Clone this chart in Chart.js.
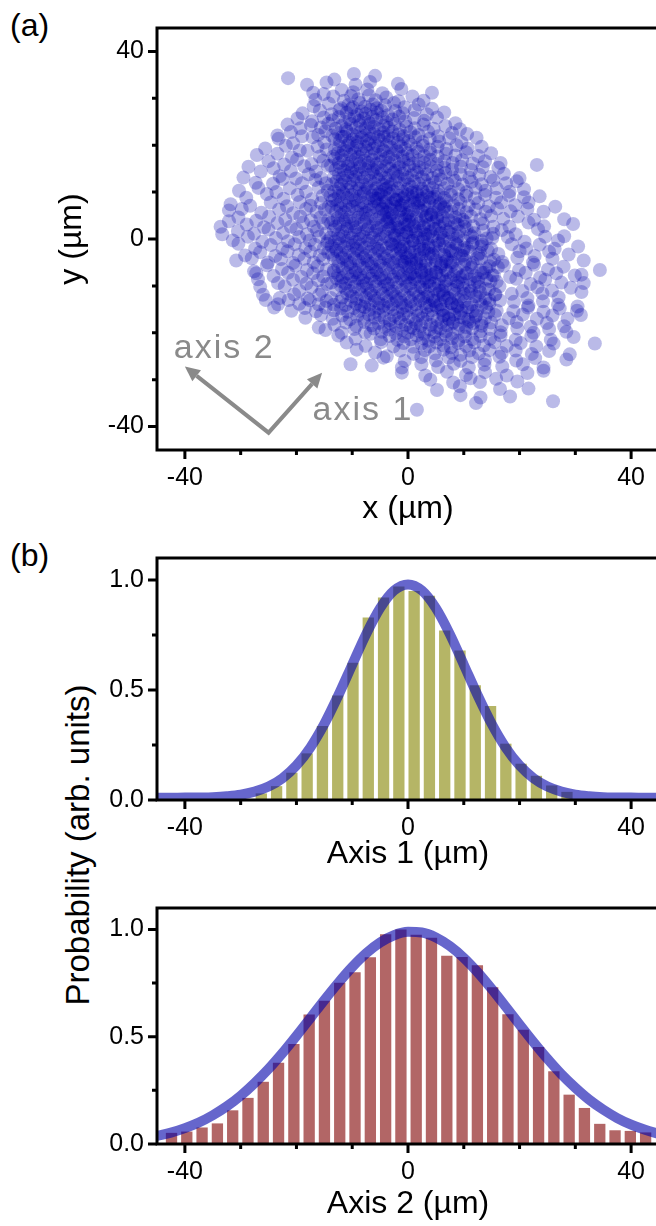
<!DOCTYPE html>
<html>
<head>
<meta charset="utf-8">
<script src="https://cdn.jsdelivr.net/npm/chart.js@4"></script>
<style>
  html, body { margin: 0; padding: 0; background: #fff; }
  body { width: 656px; height: 1226px; overflow: hidden; position: relative;
         font-family: "Liberation Sans", Arial, sans-serif; color: #000; }
  canvas { position: absolute; left: 0; }
  .panel { position: absolute; left: 10px; font-size: 32px; line-height: 32px; }
  #prob { position: absolute; left: 78px; top: 845px; font-size: 33px; white-space: nowrap;
          transform: translate(-50%, -50%) rotate(-90deg); }
</style>
</head>
<body>
<div class="panel" style="top:9px">(a)</div>
<div class="panel" style="top:539px">(b)</div>
<div id="prob">Probability (arb. units)</div>
<canvas id="cloudChart" width="700" height="530" style="top:0"></canvas>
<canvas id="axis1Chart" width="700" height="350" style="top:530px"></canvas>
<canvas id="axis2Chart" width="700" height="346" style="top:880px"></canvas>
<script>
// tick marks (every 10 µm), only the majors carry a label
const umTicks = [-40, -30, -20, -10, 0, 10, 20, 30, 40];
const umLabels = [-40, 0, 40];
const probTicks = [0, 0.25, 0.5, 0.75, 1.0];
const probLabels = [0, 0.5, 1.0];

// bead positions (x, y in µm), one line per horizontal strip, top to bottom
const cloud = [
  -21.5,34.3, -13.2,34.0, -9.7,35.2, -5.9,34.8,
  -18.1,32.9, -14.6,33.4, -9.4,32.9, -6.8,33.5, -1.8,33.1,
  -17.0,31.2, -15.1,30.9, -11.9,31.8, -9.8,31.3, -7.3,31.9, -4.6,31.1, -1.2,32.0, 4.3,31.2,
  -16.6,29.7, -13.4,30.4, -11.5,29.5, -10.2,30.5, -8.9,29.8, -7.0,30.6, -5.8,29.6, -3.9,30.2, -1.7,29.4, 0.8,30.4, 2.8,29.5,
  -16.9,28.3, -14.2,28.9, -12.0,27.9, -10.7,28.6, -9.9,28.1, -8.6,29.0, -7.7,28.2, -6.3,28.7, -5.6,27.9, -4.1,28.5, -2.5,29.0, -0.6,28.1, 1.9,28.7, 4.3,27.8,
  -18.9,26.8, -15.8,27.4, -13.7,26.6, -12.3,27.5, -11.0,26.9, -10.2,27.7, -9.1,26.5, -8.3,27.2, -7.6,26.7, -6.7,27.6, -5.5,26.9, -4.8,27.4, -3.6,26.4, -2.3,27.3, -0.9,26.8, 1.2,27.5, 3.4,26.6, 6.5,27.0,
  -19.8,25.7, -17.2,25.1, -15.1,25.9, -13.5,25.3, -12.4,26.0, -11.2,25.0, -10.5,25.6, -9.6,26.1, -8.8,25.2, -7.9,25.7, -7.1,24.9, -6.4,26.0, -5.7,25.4, -4.6,25.9, -3.9,24.9, -2.8,25.5, -1.6,26.1, -0.5,25.1, 1.1,25.8, 2.9,25.2, 5.2,25.9, 8.5,24.7,
  -21.6,24.4, -19.3,23.6, -17.4,24.3, -15.6,23.8, -14.3,24.6, -13.0,23.5, -11.9,24.1, -11.1,23.4, -10.2,24.5, -9.3,23.8, -8.6,24.3, -7.6,23.6, -6.8,24.6, -6.1,23.9, -5.2,23.4, -4.4,24.2, -3.5,23.7, -2.4,24.5, -1.5,23.3, -0.3,24.0, 1.2,23.6, 2.8,24.4, 4.6,23.5, 6.7,24.1, 9.3,23.4,
  -23.4,22.1, -21.0,22.8, -19.0,21.9, -16.1,22.2, -14.8,23.0, -13.6,22.0, -12.5,22.6, -11.8,21.8, -10.9,22.9, -10.0,22.3, -9.2,21.9, -8.5,22.8, -7.6,22.1, -6.9,23.0, -6.1,22.4, -5.3,21.8, -4.4,22.7, -3.6,22.0, -2.8,22.9, -1.7,22.3, -0.8,21.9, 0.4,22.8, 1.9,22.2, 3.6,22.9, 5.4,21.9, 7.9,22.6, 10.6,22.4,
  -23.2,21.4, -20.6,20.4, -17.1,21.7, -15.0,20.6, -13.1,21.3, -12.2,20.9, -11.4,21.8, -10.5,20.6, -9.9,21.2, -9.1,20.7, -8.3,21.6, -7.4,20.9, -6.8,21.4, -5.9,20.5, -5.1,21.1, -4.3,21.8, -3.4,20.8, -2.7,21.5, -1.8,20.6, -0.9,21.3, 0.1,20.9, 1.3,21.7, 2.6,20.7, 3.9,21.4, 5.6,20.8, 7.4,21.5, 9.6,20.6, 12.3,21.6,
  -25.6,19.3, -21.9,19.9, -19.4,18.9, -16.2,19.7, -14.6,19.1, -13.1,19.2, -12.3,19.8, -11.5,19.0, -10.8,20.0, -10.0,19.4, -9.2,19.9, -8.5,19.1, -7.7,19.7, -7.0,20.2, -6.2,19.3, -5.4,19.8, -4.5,19.0, -3.8,20.0, -3.0,19.5, -2.1,18.9, -1.3,19.8, -0.5,19.2, 0.5,20.1, 1.5,19.4, 2.7,19.9, 3.9,19.1, 5.3,19.7, 6.9,19.2, 8.7,20.0, 10.7,19.3, 13.2,19.7,
  -27.1,17.9, -23.4,18.2, -20.8,17.4, -18.0,18.8, -15.8,17.6, -13.4,17.6, -12.6,18.3, -11.9,17.8, -11.1,18.7, -10.3,17.9, -9.6,18.4, -8.9,17.5, -8.1,18.2, -7.4,18.8, -6.6,17.7, -5.9,18.3, -5.0,17.9, -4.3,18.7, -3.5,17.5, -2.7,18.1, -1.8,18.6, -1.0,17.6, -0.1,18.3, 0.8,17.8, 1.8,18.6, 2.9,17.7, 4.0,18.4, 5.3,17.6, 6.8,18.2, 8.5,17.8, 10.4,18.5, 12.6,17.7, 14.9,18.3,
  -25.0,16.6, -22.2,15.9, -19.9,16.9, -17.3,16.0, -15.2,16.7, -13.1,17.1, -12.4,16.2, -11.6,16.8, -10.8,16.0, -10.1,16.5, -9.3,17.0, -8.6,16.1, -7.8,16.7, -7.1,16.2, -6.3,16.9, -5.6,16.0, -4.8,16.5, -4.0,17.1, -3.3,16.2, -2.4,16.7, -1.6,16.0, -0.8,16.6, 0.1,17.0, 0.9,16.1, 1.9,16.8, 2.9,16.3, 4.0,16.9, 5.2,16.0, 6.5,16.6, 8.0,16.2, 9.7,16.8, 11.6,16.1, 13.8,16.6, 16.6,16.2,
  -28.6,15.4, -24.1,15.1, -21.0,14.5, -18.6,15.5, -16.5,14.4, -14.4,15.6, -13.8,15.7, -13.0,14.8, -12.2,15.3, -11.5,14.6, -10.7,15.5, -10.0,15.0, -9.2,14.5, -8.5,15.4, -7.7,14.9, -7.0,15.6, -6.2,14.7, -5.5,15.2, -4.7,14.6, -3.9,15.5, -3.2,15.0, -2.3,14.5, -1.5,15.3, -0.7,14.8, 0.2,15.6, 1.1,14.7, 2.0,15.3, 3.0,14.9, 4.1,15.5, 5.2,14.6, 6.5,15.2, 7.9,14.8, 9.5,15.4, 11.3,14.7, 13.4,15.3, 16.2,15.2, 23.1,15.8,
  -29.5,13.1, -26.4,14.4, -23.0,13.4, -20.1,12.9, -17.8,13.8, -15.6,13.0, -13.3,13.2, -12.4,13.8, -11.7,13.0, -10.9,13.6, -10.2,14.2, -9.4,13.3, -8.7,13.9, -7.9,13.1, -7.2,13.7, -6.4,14.2, -5.7,13.2, -4.9,13.8, -4.1,13.0, -3.4,13.5, -2.6,14.1, -1.8,13.3, -1.0,13.9, -0.1,13.1, 0.7,13.6, 1.6,14.2, 2.5,13.2, 3.4,13.8, 4.4,13.0, 5.5,13.6, 6.7,14.1, 8.0,13.2, 9.4,13.8, 11.0,13.1, 12.8,13.7, 14.8,13.2, 17.2,13.9, 20.0,13.0,
  -27.3,12.0, -24.2,11.8, -22.5,12.8, -19.0,11.9, -16.6,12.6, -14.7,11.9, -13.6,11.7, -12.8,12.3, -12.0,11.6, -11.3,12.5, -10.5,11.9, -9.8,12.6, -9.0,11.7, -8.3,12.2, -7.5,11.5, -6.8,12.4, -6.0,11.8, -5.3,12.6, -4.5,11.6, -3.7,12.2, -3.0,11.7, -2.2,12.5, -1.4,11.9, -0.6,12.7, 0.2,11.6, 1.1,12.3, 2.0,11.8, 2.9,12.6, 3.8,11.5, 4.8,12.1, 5.9,12.7, 7.1,11.8, 8.4,12.4, 9.8,11.6, 11.4,12.2, 13.2,11.7, 15.3,12.5, 17.6,11.9, 19.5,12.3,
  -30.3,10.3, -26.8,10.9, -23.6,10.0, -21.2,10.8, -18.3,10.1, -16.0,11.0, -14.4,10.3, -13.2,10.2, -12.4,10.8, -11.7,10.0, -10.9,10.5, -10.2,11.1, -9.4,10.2, -8.7,10.7, -7.9,10.0, -7.2,10.9, -6.4,10.3, -5.7,10.8, -4.9,10.0, -4.1,10.6, -3.4,11.1, -2.6,10.2, -1.8,10.8, -1.0,10.1, -0.1,10.6, 0.7,11.1, 1.6,10.1, 2.5,10.7, 3.4,10.0, 4.4,10.9, 5.4,10.3, 6.5,10.8, 7.7,10.1, 9.0,10.6, 10.5,10.0, 12.1,10.9, 13.9,10.3, 15.9,10.8, 18.2,10.1, 20.8,10.6,
  -29.0,8.8, -25.3,9.6, -22.3,8.6, -19.8,9.4, -17.2,8.5, -15.3,9.2, -13.9,9.3, -13.1,8.5, -12.4,9.2, -11.6,9.7, -10.9,8.8, -10.1,9.4, -9.4,8.5, -8.6,9.1, -7.9,9.7, -7.1,8.7, -6.4,9.3, -5.6,8.6, -4.8,9.5, -4.1,8.9, -3.3,9.6, -2.5,8.5, -1.7,9.2, -0.9,8.7, -0.1,9.5, 0.8,8.9, 1.6,9.6, 2.5,8.6, 3.4,9.2, 4.4,8.7, 5.4,9.5, 6.5,8.8, 7.7,9.4, 9.0,8.5, 10.4,9.2, 12.0,8.7, 13.8,9.4, 15.8,8.8, 18.1,9.3, 20.8,8.9, 23.6,9.1,
  -31.8,7.4, -28.3,7.1, -24.6,7.8, -21.7,7.0, -19.4,7.9, -17.5,7.1, -15.6,7.7, -14.2,6.9, -13.5,8.2, -12.7,7.3, -12.0,7.9, -11.2,7.1, -10.5,7.7, -9.7,8.2, -9.0,7.2, -8.2,7.8, -7.5,7.0, -6.7,7.5, -6.0,8.1, -5.2,7.3, -4.4,7.9, -3.7,7.0, -2.9,7.6, -2.1,8.2, -1.3,7.2, -0.5,7.8, 0.3,7.1, 1.2,7.7, 2.0,8.2, 2.9,7.3, 3.8,7.9, 4.8,7.0, 5.8,7.6, 6.9,8.1, 8.1,7.2, 9.4,7.8, 10.9,7.1, 12.6,7.7, 14.5,7.0, 16.7,7.8, 19.2,7.2, 21.6,7.8,
  -32.1,6.1, -29.8,6.4, -26.3,5.6, -23.1,6.3, -20.6,5.5, -18.3,6.4, -16.4,5.8, -14.9,6.3, -13.7,6.8, -12.9,5.9, -12.1,6.5, -11.4,5.7, -10.6,6.3, -9.9,6.9, -9.1,5.8, -8.4,6.4, -7.6,5.6, -6.9,6.2, -6.1,6.8, -5.3,5.9, -4.6,6.5, -3.8,5.7, -3.1,6.3, -2.3,6.9, -1.5,5.8, -0.7,6.4, 0.1,5.6, 0.9,6.2, 1.8,6.8, 2.6,5.9, 3.5,6.5, 4.5,5.7, 5.5,6.3, 6.6,6.9, 7.8,5.8, 9.1,6.4, 10.5,5.7, 12.1,6.3, 13.9,5.8, 16.0,6.5, 18.4,5.9, 21.4,6.4, 24.3,5.8, 26.4,6.9,
  -30.4,4.6, -27.2,3.9, -24.9,4.8, -22.0,4.1, -19.3,4.8, -17.4,4.0, -15.7,4.6, -14.3,4.1, -13.4,4.0, -12.6,4.5, -11.9,5.1, -11.1,4.1, -10.4,4.7, -9.6,4.0, -8.9,4.6, -8.1,5.2, -7.4,4.3, -6.6,4.9, -5.8,4.1, -5.1,4.6, -4.3,5.1, -3.5,4.2, -2.7,4.8, -1.9,4.0, -1.1,4.5, -0.2,5.1, 0.6,4.1, 1.5,4.7, 2.3,4.0, 3.2,4.6, 4.2,5.1, 5.2,4.2, 6.2,4.8, 7.3,4.0, 8.5,4.6, 9.8,4.1, 11.3,4.8, 13.0,4.2, 14.9,4.9, 17.1,4.3, 19.7,4.8, 22.6,4.1, 28.0,4.2,
  -32.1,3.8, -33.6,2.6, -28.9,3.1, -25.8,2.5, -23.4,3.4, -21.0,2.6, -18.8,3.5, -16.9,2.6, -15.2,3.3, -13.8,3.4, -13.0,2.6, -12.3,3.2, -11.5,3.7, -10.8,2.7, -10.0,3.3, -9.3,2.5, -8.5,3.1, -7.8,3.6, -7.0,2.7, -6.2,3.3, -5.5,2.4, -4.7,3.0, -3.9,3.6, -3.1,2.6, -2.3,3.2, -1.5,2.5, -0.6,3.1, 0.2,3.7, 1.1,2.7, 1.9,3.3, 2.8,2.5, 3.7,3.1, 4.6,3.6, 5.6,2.7, 6.6,3.3, 7.7,2.5, 8.9,3.1, 10.2,3.6, 11.7,2.7, 13.4,3.3, 15.3,2.6, 18.2,2.6, 21.6,3.5, 24.4,2.7, 29.6,3.2,
  -33.3,1.0, -30.5,1.7, -27.6,1.1, -25.0,2.0, -22.4,1.3, -20.0,2.1, -18.1,1.0, -16.3,1.8, -14.7,1.2, -13.3,1.9, -12.5,1.0, -11.8,1.6, -11.0,2.2, -10.3,1.2, -9.5,1.8, -8.8,1.0, -8.0,1.5, -7.3,2.1, -6.5,1.2, -5.7,1.8, -5.0,1.0, -4.2,1.6, -3.4,2.2, -2.6,1.3, -1.8,1.9, -1.0,1.0, -0.2,1.5, 0.6,2.1, 1.4,1.2, 2.3,1.8, 3.1,1.0, 4.0,1.6, 4.9,2.2, 5.9,1.3, 6.9,1.9, 8.0,1.0, 9.2,1.6, 10.5,2.1, 11.9,1.2, 13.5,1.8, 15.3,1.1, 16.8,1.9, 19.3,1.0, 23.3,2.1, 28.0,0.6,
  -31.4,-0.3, -28.7,0.5, -26.1,-0.6, -23.7,0.2, -21.5,-0.5, -19.5,0.4, -17.6,-0.3, -15.9,0.5, -14.4,-0.5, -13.9,0.3, -13.1,-0.5, -12.4,0.1, -11.6,0.6, -10.9,-0.4, -10.1,0.2, -9.4,-0.6, -8.6,0.0, -7.9,0.5, -7.1,-0.3, -6.3,0.3, -5.6,-0.5, -4.8,0.1, -4.0,0.6, -3.2,-0.4, -2.4,0.2, -1.6,-0.6, -0.8,0.0, 0.1,0.5, 0.9,-0.3, 1.8,0.3, 2.6,-0.5, 3.5,0.1, 4.4,0.6, 5.4,-0.4, 6.4,0.2, 7.5,-0.5, 8.7,0.1, 10.0,-0.3, 11.5,0.4, 13.2,-0.4, 15.1,0.2, 17.9,0.4, 20.9,-0.6, 24.6,0.5, 26.9,-0.3,
  -30.4,-1.0, -27.4,-2.0, -24.6,-1.3, -22.5,-2.1, -20.3,-1.1, -18.4,-1.9, -16.7,-1.2, -15.1,-2.0, -14.5,-1.0, -13.7,-1.5, -12.9,-2.1, -12.2,-1.1, -11.4,-1.7, -10.7,-0.9, -9.9,-1.4, -9.2,-2.0, -8.4,-1.2, -7.7,-1.8, -6.9,-1.0, -6.1,-1.6, -5.4,-2.1, -4.6,-1.3, -3.8,-1.9, -3.0,-1.0, -2.2,-1.5, -1.4,-2.0, -0.6,-1.1, 0.3,-1.7, 1.1,-0.9, 2.0,-1.5, 2.8,-2.1, 3.7,-1.2, 4.6,-1.8, 5.6,-1.0, 6.6,-1.6, 7.6,-2.1, 8.8,-1.2, 10.1,-1.8, 11.5,-1.0, 13.1,-1.6, 14.9,-2.1, 18.6,-1.1, 21.2,-2.0, 23.6,-1.2, 26.3,-2.1, 30.5,-1.6,
  -29.2,-3.5, -26.5,-2.8, -23.8,-3.6, -21.6,-2.6, -19.6,-3.4, -17.5,-2.7, -15.8,-3.5, -14.3,-2.9, -13.6,-3.3, -12.8,-2.5, -12.1,-3.0, -11.3,-3.6, -10.6,-2.7, -9.8,-3.2, -9.1,-2.4, -8.3,-3.0, -7.6,-3.6, -6.8,-2.7, -6.0,-3.3, -5.3,-2.5, -4.5,-3.1, -3.7,-3.6, -2.9,-2.6, -2.1,-3.2, -1.3,-2.4, -0.5,-3.0, 0.3,-3.6, 1.2,-2.7, 2.0,-3.3, 2.9,-2.5, 3.7,-3.1, 4.6,-3.6, 5.5,-2.7, 6.5,-3.3, 7.5,-2.5, 8.6,-3.1, 9.8,-3.6, 11.1,-2.7, 12.6,-3.3, 14.3,-2.5, 16.2,-3.2, 20.0,-2.6, 22.7,-3.6, 25.3,-2.7, 28.8,-3.3,
  -30.8,-4.6, -28.0,-4.1, -25.1,-5.0, -22.8,-4.3, -20.6,-5.1, -18.6,-4.2, -16.9,-5.0, -15.2,-4.3, -13.3,-4.2, -12.5,-4.8, -11.8,-4.0, -11.0,-4.5, -10.3,-5.1, -9.5,-4.1, -8.8,-4.7, -8.0,-4.0, -7.3,-4.6, -6.5,-5.2, -5.7,-4.3, -5.0,-4.9, -4.2,-4.1, -3.4,-4.6, -2.6,-5.1, -1.8,-4.2, -1.0,-4.8, -0.2,-4.0, 0.6,-4.5, 1.5,-5.1, 2.3,-4.1, 3.2,-4.7, 4.1,-4.0, 5.0,-4.6, 6.0,-5.2, 7.0,-4.3, 8.0,-4.9, 9.1,-4.1, 10.3,-4.6, 11.6,-5.1, 13.1,-4.2, 14.8,-4.8, 16.9,-4.9, 19.6,-4.0, 22.4,-5.0, 25.9,-4.2, 31.5,-4.6,
  -27.6,-6.9, -25.3,-5.6, -22.6,-6.4, -20.2,-5.7, -18.1,-6.6, -16.2,-5.8, -14.6,-6.5, -13.3,-6.7, -12.5,-5.8, -11.7,-6.3, -10.9,-5.5, -10.2,-6.0, -9.4,-6.6, -8.7,-5.7, -7.9,-6.2, -7.2,-5.4, -6.4,-6.0, -5.7,-6.6, -4.9,-5.7, -4.1,-6.3, -3.4,-5.5, -2.6,-6.1, -1.8,-6.6, -1.0,-5.6, -0.2,-6.2, 0.6,-5.4, 1.4,-6.0, 2.3,-6.6, 3.1,-5.7, 4.0,-6.3, 4.9,-5.5, 5.8,-6.1, 6.8,-6.6, 7.8,-5.7, 8.9,-6.3, 10.1,-5.5, 11.4,-6.1, 12.9,-6.7, 14.6,-5.8, 17.2,-5.7, 19.9,-6.6, 22.6,-5.5, 25.1,-6.5, 27.9,-5.9, 29.9,-7.8, 34.4,-6.6,
  -27.2,-7.3, -24.1,-7.9, -21.5,-7.2, -19.1,-8.1, -17.0,-7.3, -15.2,-8.0, -13.3,-7.1, -12.5,-7.7, -11.7,-8.2, -10.9,-7.3, -10.1,-7.9, -9.4,-7.1, -8.6,-7.6, -7.9,-8.2, -7.1,-7.2, -6.4,-7.8, -5.6,-7.1, -4.8,-7.7, -4.1,-8.3, -3.3,-7.4, -2.5,-8.0, -1.7,-7.2, -0.9,-7.7, -0.1,-8.2, 0.7,-7.3, 1.6,-7.9, 2.4,-7.1, 3.3,-7.7, 4.2,-8.2, 5.1,-7.2, 6.1,-7.8, 7.1,-7.1, 8.2,-7.7, 9.3,-8.2, 10.6,-7.3, 12.0,-7.9, 13.6,-7.2, 15.4,-7.8, 18.3,-8.1, 21.1,-7.2, 23.7,-8.2, 26.6,-7.3, 31.1,-7.6,
  -26.9,-8.6, -23.3,-9.4, -20.6,-8.7, -18.2,-9.5, -16.1,-8.8, -14.5,-9.6, -13.7,-9.3, -12.8,-8.4, -12.0,-9.0, -11.2,-9.5, -10.4,-8.6, -9.6,-9.2, -8.9,-8.4, -8.1,-8.9, -7.4,-9.5, -6.6,-8.5, -5.9,-9.1, -5.1,-8.4, -4.3,-9.0, -3.6,-9.6, -2.8,-8.7, -2.0,-9.3, -1.2,-8.5, -0.4,-9.0, 0.4,-9.5, 1.2,-8.6, 2.1,-9.2, 2.9,-8.4, 3.8,-9.0, 4.7,-9.5, 5.6,-8.5, 6.6,-9.1, 7.6,-8.4, 8.7,-9.0, 9.8,-9.5, 11.1,-8.6, 12.5,-9.2, 14.1,-8.5, 15.9,-9.1, 19.4,-8.5, 22.0,-9.6, 24.6,-8.7, 27.5,-9.3, 31.5,-9.4,
  -26.5,-10.2, -22.1,-10.1, -19.5,-11.0, -17.3,-10.3, -15.4,-11.1, -12.9,-10.9, -12.0,-10.0, -11.2,-10.6, -10.4,-11.1, -9.6,-10.2, -8.8,-10.8, -8.1,-10.0, -7.3,-10.5, -6.6,-11.1, -5.8,-10.1, -5.0,-10.7, -4.3,-10.0, -3.5,-10.6, -2.7,-11.2, -1.9,-10.3, -1.1,-10.9, -0.3,-10.1, 0.5,-10.6, 1.3,-11.1, 2.2,-10.2, 3.0,-10.8, 3.9,-10.0, 4.8,-10.6, 5.7,-11.1, 6.7,-10.1, 7.7,-10.7, 8.8,-10.0, 10.0,-10.6, 11.3,-11.1, 12.8,-10.2, 14.5,-10.8, 16.4,-10.1, 20.5,-11.1, 23.2,-10.3, 25.8,-11.0, 29.2,-10.4,
  -26.0,-11.9, -23.0,-12.6, -20.4,-11.8, -18.0,-12.7, -15.9,-11.9, -13.8,-12.6, -11.8,-12.5, -10.9,-11.6, -10.0,-12.2, -9.2,-12.7, -8.4,-11.8, -7.6,-12.4, -6.8,-11.6, -6.1,-12.1, -5.3,-12.7, -4.5,-11.7, -3.8,-12.3, -3.0,-11.6, -2.2,-12.2, -1.4,-12.8, -0.6,-11.9, 0.2,-12.5, 1.0,-11.7, 1.9,-12.2, 2.7,-12.7, 3.6,-11.8, 4.5,-12.4, 5.4,-11.6, 6.4,-12.2, 7.4,-12.7, 8.5,-11.7, 9.6,-12.3, 10.9,-11.6, 12.3,-12.2, 13.9,-12.7, 15.7,-11.8, 18.6,-11.7, 21.4,-12.6, 24.1,-11.6, 27.0,-12.4, 31.1,-11.3,
  -25.5,-13.0, -21.4,-13.0, -23.3,-13.9, -19.5,-13.8, -17.6,-13.1, -16.0,-13.9, -14.6,-13.2, -13.3,-14.0, -12.2,-13.4, -11.2,-14.1, -10.2,-13.2, -9.3,-13.8, -8.4,-14.3, -7.6,-13.4, -6.8,-14.0, -6.0,-13.1, -5.2,-13.7, -4.4,-14.2, -3.6,-13.3, -2.8,-13.9, -2.0,-13.1, -1.2,-13.6, -0.4,-14.2, 0.5,-13.3, 1.3,-13.9, 2.2,-13.1, 3.0,-13.7, 3.9,-14.2, 4.8,-13.3, 5.8,-13.9, 6.8,-13.1, 7.8,-13.7, 8.9,-14.2, 10.1,-13.3, 11.4,-13.9, 12.9,-13.2, 14.6,-13.8, 16.5,-13.1, 19.0,-13.4, 21.6,-14.2, 24.2,-13.3, 26.9,-14.0, 30.4,-14.4,
  -24.0,-14.6, -20.9,-15.3, -18.5,-14.7, -16.5,-15.4, -14.8,-14.6, -13.3,-15.2, -12.0,-14.8, -10.8,-15.5, -9.7,-14.7, -8.7,-15.3, -7.8,-14.5, -6.9,-15.1, -6.0,-15.6, -5.2,-14.7, -4.4,-15.3, -3.5,-14.5, -2.7,-15.0, -1.9,-15.6, -1.0,-14.7, -0.2,-15.3, 0.6,-14.5, 1.5,-15.1, 2.4,-15.6, 3.3,-14.6, 4.2,-15.2, 5.2,-14.5, 6.2,-15.1, 7.3,-15.6, 8.4,-14.7, 9.6,-15.3, 10.9,-14.6, 12.4,-15.2, 14.0,-14.6, 15.9,-15.3, 18.9,-15.4, 21.5,-14.6, 24.3,-15.5, 27.2,-14.8, 30.3,-15.3,
  -18.4,-16.8, -15.6,-16.2, -13.5,-17.0, -11.8,-16.3, -10.4,-17.1, -9.1,-16.4, -8.0,-17.0, -7.0,-16.1, -6.0,-16.8, -5.1,-16.2, -4.2,-16.9, -3.3,-17.3, -2.5,-16.4, -1.6,-16.9, -0.8,-16.1, 0.1,-16.7, 0.9,-17.2, 1.8,-16.3, 2.6,-16.9, 3.5,-16.1, 4.4,-16.6, 5.3,-17.2, 6.3,-16.3, 7.3,-16.9, 8.3,-16.1, 9.5,-16.7, 10.8,-17.2, 12.2,-16.3, 13.8,-16.9, 15.6,-16.2, 18.1,-16.9, 20.6,-16.1, 23.1,-17.0, 25.9,-16.3, 28.6,-17.0, 31.0,-16.2,
  -16.0,-18.9, -13.2,-18.3, -11.1,-17.8, -9.3,-18.5, -7.8,-17.7, -6.5,-18.4, -5.3,-17.9, -4.2,-18.7, -3.2,-18.0, -2.2,-18.6, -1.3,-17.7, -0.4,-18.3, 0.5,-18.8, 1.4,-17.9, 2.3,-18.5, 3.2,-17.7, 4.1,-18.3, 5.1,-18.8, 6.0,-17.8, 7.0,-18.4, 8.1,-17.7, 9.2,-18.3, 10.4,-18.8, 11.7,-17.9, 13.2,-18.5, 14.9,-17.8, 16.8,-18.4, 19.5,-17.7, 22.0,-18.7, 24.9,-17.9, 28.0,-18.6,
  -14.8,-19.4, -11.9,-20.0, -9.6,-19.2, -7.7,-19.9, -6.1,-19.1, -4.7,-19.8, -3.4,-19.3, -2.2,-20.1, -1.1,-19.4, 0.0,-20.0, 1.0,-19.1, 2.0,-19.7, 2.9,-20.2, 3.9,-19.3, 4.8,-19.9, 5.8,-19.1, 6.8,-19.7, 7.9,-20.2, 9.0,-19.2, 10.2,-19.8, 11.5,-19.1, 13.0,-19.7, 14.7,-19.2, 16.6,-19.9, 19.6,-19.1, 22.5,-20.0, 25.3,-19.2, 28.4,-19.8,
  -12.5,-20.6, -9.4,-21.3, -6.7,-20.2, -4.9,-21.4, -3.3,-20.7, -1.9,-21.5, -0.7,-20.8, 0.5,-21.4, 1.6,-20.6, 2.7,-21.2, 3.7,-21.7, 4.7,-20.8, 5.8,-21.4, 6.8,-20.6, 7.9,-21.2, 9.0,-21.7, 10.2,-20.8, 11.5,-21.4, 13.0,-20.7, 14.7,-21.3, 16.6,-20.6, 19.3,-21.5, 22.1,-20.7, 25.6,-21.5, 29.7,-20.9,
  -11.0,-22.1, -7.6,-22.8, -4.8,-22.0, -2.6,-22.9, -0.8,-22.2, 0.9,-23.0, 2.4,-22.3, 3.8,-22.9, 5.1,-22.1, 6.4,-22.7, 7.7,-23.1, 9.0,-22.2, 10.4,-22.8, 11.9,-22.1, 13.6,-22.7, 15.5,-22.0, 17.7,-22.8, 20.2,-22.2, 23.0,-22.9, 26.1,-22.3, 33.5,-22.3,
  -9.2,-23.6, -3.8,-25.0, -5.9,-24.2, -1.4,-23.8, 1.0,-24.5, 3.0,-23.7, 4.8,-24.4, 6.4,-23.6, 7.9,-24.3, 9.4,-24.7, 11.0,-23.8, 12.7,-24.4, 14.6,-23.7, 16.8,-24.3, 19.3,-23.8, 22.2,-24.5, 25.3,-23.9, 29.0,-24.6,
  -10.3,-26.7, -4.4,-25.3, -0.6,-26.0, 2.4,-25.2, 5.0,-25.9, 7.3,-25.3, 9.4,-26.0, 11.5,-25.2, 13.8,-25.8, 16.4,-25.1, 19.4,-25.9, 22.8,-25.4, 28.4,-25.7,
  -6.5,-27.0, -1.1,-27.4, 2.4,-26.7, 5.4,-27.3, 8.2,-26.6, 10.9,-27.4, 13.7,-26.8, 16.9,-27.2, 20.6,-26.7, 24.3,-27.4,
  -1.1,-28.5, 3.1,-29.1, 7.0,-28.3, 10.4,-29.0, 13.8,-28.4, 17.7,-29.1, 21.4,-28.6, 24.3,-28.1,
  4.0,-30.0, 8.1,-30.6, 12.9,-30.5, 15.8,-29.8, 19.6,-30.4, 11.2,-29.7,
  5.2,-32.2, 9.3,-31.4, 16.5,-32.0, 21.6,-31.9,
  9.4,-33.3, 13.0,-33.8, 18.3,-33.6,
  26.0,-34.6, 12.2,-35.0,
  1.6,-36.4,
  // the densest part of the cloud, just right of centre
  -5.3,9.6, -2.2,8.4, 0.7,9.9, 3.9,8.8, -4.0,7.9, 1.8,7.6,
  -4.6,6.3, -1.1,7.2, 2.4,6.0, 5.7,7.4, -2.9,5.5, 0.3,4.9, 4.1,5.2, 7.0,5.8,
  -3.7,3.6, -0.5,4.2, 2.9,3.1, 5.2,4.6, 8.4,3.4, -1.8,2.3, 1.4,1.7, 4.6,2.2, 7.3,1.5, 10.1,2.6,
  -2.4,0.8, 0.8,-0.4, 3.6,0.9, 6.2,-0.2, 9.0,0.6, 11.7,-0.7, -0.9,-1.6, 2.2,-2.3, 5.0,-1.4, 7.9,-2.6, 10.6,-1.9, 13.3,-1.2,
  -1.3,-3.7, 1.5,-4.4, 4.3,-3.2, 6.8,-4.8, 9.5,-3.5, 12.4,-4.1, 0.2,-5.9, 3.0,-6.6, 5.9,-5.7, 8.6,-6.9, 11.2,-5.5, 14.0,-6.3,
  1.2,-8.2, 4.1,-7.6, 6.9,-8.8, 9.8,-7.9, 12.6,-8.5, 15.1,-7.7, 2.6,-10.4, 5.5,-9.8, 8.2,-10.9, 11.0,-10.1, 13.9,-10.6,
  3.4,-12.3, 6.3,-11.8, 9.1,-12.9, 12.0,-12.2, 14.6,-13.0, 5.0,-14.2, 7.8,-13.7, 10.6,-14.6, 13.2,-14.1,
  6.4,-16.3, 9.3,-15.8, 12.1,-16.6, 8.0,-18.0, 11.0,-17.6,
  -3.9,10.7, -0.6,9.1, 2.6,10.2, -5.8,8.7, -1.4,6.1, 1.1,8.3, 4.8,9.0, 6.4,6.6, -3.3,4.4, 0.0,3.0, 3.3,4.9, 6.2,3.8, 9.2,4.9,
  -0.3,1.4, 2.8,0.2, 5.7,1.1, 8.5,-0.9, 11.2,0.8, 14.1,0.1, -2.8,-1.2, 0.4,-2.9, 3.7,-1.9, 6.6,-3.6, 9.9,-2.4, 12.9,-3.0, 15.4,-4.4,
  -0.6,-4.9, 2.3,-5.3, 5.0,-7.1, 7.6,-5.0, 10.4,-7.3, 13.3,-7.2, 16.1,-6.0, 0.4,-7.5, 3.4,-9.2, 6.2,-11.0, 9.0,-9.3, 11.9,-9.4, 14.8,-9.0,
  4.5,-13.1, 7.1,-12.6, 10.0,-11.7, 12.9,-11.3, 15.6,-11.9, 6.0,-15.1, 8.9,-14.4, 11.6,-15.4, 14.4,-15.6, 7.4,-17.1, 10.1,-16.9, 13.2,-17.9
];

// the two principal axes drawn in the corner of the cloud (µm)
const arrowBase = [-25.0, -41.3];
const arrowTips = [[-15.4, -28.5], [-40.0, -27.2]];
const axisNames = [
  { text: 'axis 1', x: -17.1, y: -38.5 },
  { text: 'axis 2', x: -42.0, y: -25.3 }
];

// histogram along axis 1: bin centres (µm) and normalised counts
const axis1Bins = [-26.30, -23.56, -20.82, -18.08, -15.34, -12.60, -9.86, -7.12, -4.38, -1.64, 1.10,
  3.84, 6.58, 9.32, 12.06, 14.80, 17.54, 20.28, 23.02, 25.76, 28.50];
const axis1Counts = [0.030, 0.063, 0.124, 0.212, 0.336, 0.475, 0.624, 0.829, 0.921, 0.970, 0.950,
  0.928, 0.770, 0.680, 0.522, 0.427, 0.256, 0.165, 0.110, 0.066, 0.037];

// histogram along axis 2
const axis2Bins = [-42.40, -39.66, -36.92, -34.17, -31.43, -28.69, -25.95, -23.21, -20.46, -17.72, -14.98,
  -12.24, -9.50, -6.75, -4.01, -1.27, 1.47, 4.21, 6.96, 9.70, 12.44, 15.18, 17.92, 20.67, 23.41, 26.15,
  28.89, 31.63, 34.38, 37.12, 39.86, 42.60];
const axis2Counts = [0.052, 0.058, 0.077, 0.096, 0.157, 0.215, 0.290, 0.379, 0.466, 0.604, 0.668,
  0.752, 0.800, 0.871, 0.978, 1.000, 0.975, 0.961, 0.877, 0.872, 0.833, 0.731, 0.605, 0.533, 0.452, 0.339,
  0.230, 0.168, 0.094, 0.064, 0.061, 0.054];

// gaussian fits, sampled every 2.5 µm
const fitX = [-45, -42.5, -40, -37.5, -35, -32.5, -30, -27.5, -25, -22.5, -20, -17.5, -15, -12.5, -10, -7.5, -5, -2.5, 0,
  2.5, 5, 7.5, 10, 12.5, 15, 17.5, 20, 22.5, 25, 27.5, 30, 32.5, 35, 37.5, 40, 42.5, 45];
const axis1Fit = [0.010, 0.010, 0.011, 0.011, 0.013, 0.017, 0.024, 0.038, 0.061, 0.099, 0.157, 0.239, 0.346, 0.475, 0.615, 0.754, 0.872, 0.952, 0.980,
  0.952, 0.872, 0.754, 0.615, 0.475, 0.346, 0.239, 0.157, 0.099, 0.061, 0.038, 0.024, 0.017, 0.013, 0.011, 0.011, 0.010, 0.010];
const axis2Fit = [0.038, 0.053, 0.074, 0.100, 0.134, 0.175, 0.225, 0.284, 0.350, 0.424, 0.504, 0.587, 0.671, 0.751, 0.825, 0.889, 0.939, 0.973, 0.989,
  0.986, 0.963, 0.923, 0.868, 0.800, 0.723, 0.641, 0.557, 0.475, 0.397, 0.325, 0.262, 0.206, 0.160, 0.121, 0.090, 0.066, 0.047];

const FONT = '"Liberation Sans", Arial, sans-serif';
Chart.defaults.font.family = FONT;
Chart.defaults.color = '#000';

const FIT_COLOR = 'rgba(0, 0, 170, 0.6)';

// black frame plus outward tick marks (long ones where a label sits)
const frame = {
  id: 'frame',
  afterDatasetsDraw(chart) {
    const { ctx, chartArea: a, scales: { x, y } } = chart;
    ctx.save();
    ctx.strokeStyle = '#000';
    ctx.lineWidth = 3;
    ctx.strokeRect(a.left, a.top, a.right - a.left, a.bottom - a.top);
    ctx.beginPath();
    x.ticks.forEach(t => {
      const px = x.getPixelForValue(t.value);
      ctx.moveTo(px, a.bottom);
      ctx.lineTo(px, a.bottom + (t.label ? 9 : 5));
    });
    y.ticks.forEach(t => {
      const py = y.getPixelForValue(t.value);
      ctx.moveTo(a.left, py);
      ctx.lineTo(a.left - (t.label ? 9 : 5), py);
    });
    ctx.stroke();
    ctx.restore();
  }
};

// grey arrows showing the rotated axes
const arrows = {
  id: 'arrows',
  afterDatasetsDraw(chart) {
    const { ctx, scales: { x, y } } = chart;
    const bx = x.getPixelForValue(arrowBase[0]);
    const by = y.getPixelForValue(arrowBase[1]);
    const head = 15, half = 7;
    ctx.save();
    ctx.strokeStyle = ctx.fillStyle = '#8a8a8a';
    ctx.lineWidth = 4;
    ctx.lineJoin = 'miter';
    const heads = arrowTips.map(([tx, ty]) => {
      const px = x.getPixelForValue(tx), py = y.getPixelForValue(ty);
      const ang = Math.atan2(py - by, px - bx);
      return { px, py, ang, hx: px - head * Math.cos(ang), hy: py - head * Math.sin(ang) };
    });
    ctx.beginPath();
    ctx.moveTo(heads[0].hx, heads[0].hy);
    ctx.lineTo(bx, by);
    ctx.lineTo(heads[1].hx, heads[1].hy);
    ctx.stroke();
    heads.forEach(h => {
      ctx.beginPath();
      ctx.moveTo(h.px, h.py);
      ctx.lineTo(h.hx + half * Math.sin(h.ang), h.hy - half * Math.cos(h.ang));
      ctx.lineTo(h.hx - half * Math.sin(h.ang), h.hy + half * Math.cos(h.ang));
      ctx.closePath();
      ctx.fill();
    });
    ctx.font = '34px ' + FONT;
    ctx.letterSpacing = '2px';
    ctx.textBaseline = 'alphabetic';
    axisNames.forEach(n => ctx.fillText(n.text, x.getPixelForValue(n.x), y.getPixelForValue(n.y)));
    ctx.restore();
  }
};

function axis(min, max, ticks, labels, fmt, size, title, titlePad) {
  return {
    type: 'linear', min, max, offset: false,
    grid: { display: false, drawTicks: false },
    border: { display: false },
    afterBuildTicks: s => { s.ticks = ticks.map(v => ({ value: v })); },
    afterFit: s => { if (s.isHorizontal()) s.height = size; else s.width = size; },
    ticks: {
      autoSkip: false, maxRotation: 0, padding: 13,
      font: { size: 25 },
      callback: v => labels.includes(v) ? fmt(v) : ''
    },
    title: { display: !!title, text: title || '', font: { size: 32 }, padding: titlePad || 0 }
  };
}

const baseOptions = pad => ({
  responsive: false, animation: false, events: [],
  layout: { padding: pad },
  plugins: { legend: { display: false }, tooltip: { enabled: false } }
});

// (a) positions in the x-y plane
const cloudPoints = [];
for (let i = 0; i < cloud.length; i += 2) cloudPoints.push({ x: cloud[i], y: cloud[i + 1] });

new Chart(document.getElementById('cloudChart'), {
  type: 'scatter',
  data: {
    datasets: [{
      data: cloudPoints,
      pointRadius: 7,
      pointBackgroundColor: 'rgba(0, 0, 170, 0.27)',
      pointBorderWidth: 0
    }]
  },
  options: {
    ...baseOptions({ left: 0, top: 13, right: 41, bottom: 0 }),
    scales: {
      x: axis(-45, 45, umTicks, umLabels, String, 80, 'x (µm)', { top: 0, bottom: 2 }),
      y: axis(-45, 45, umTicks, umLabels, String, 157, 'y (µm)', { top: 53, bottom: 0 })
    }
  },
  plugins: [frame, arrows]
});

// (b) histograms with their gaussian fits
function histogram(id, bins, counts, fit, barColor, title, pad, xSize, titlePad) {
  new Chart(document.getElementById(id), {
    type: 'bar',
    data: {
      datasets: [
        {
          type: 'line',
          data: fitX.map((x, i) => ({ x, y: fit[i] })),
          borderColor: FIT_COLOR,
          borderWidth: 10,
          pointRadius: 0,
          cubicInterpolationMode: 'monotone',
          order: 1
        },
        {
          data: bins.map((x, i) => ({ x, y: counts[i] })),
          backgroundColor: barColor,
          borderWidth: 0,
          categoryPercentage: 1,
          barPercentage: 0.74,
          order: 2
        }
      ]
    },
    options: {
      ...baseOptions(pad),
      scales: {
        x: axis(-45, 45, umTicks, umLabels, String, xSize, title, titlePad),
        y: axis(0, 1.1, probTicks, probLabels, v => v.toFixed(1), 157)
      }
    },
    plugins: [frame]
  });
}

histogram('axis1Chart', axis1Bins, axis1Counts, axis1Fit, '#b5b566', 'Axis 1 (µm)',
  { left: 0, top: 19, right: 41, bottom: 0 }, 80, { top: 0, bottom: 7 });
histogram('axis2Chart', axis2Bins, axis2Counts, axis2Fit, '#b26666', 'Axis 2 (µm)',
  { left: 0, top: 12, right: 41, bottom: 0 }, 82, { top: 0, bottom: 3 });
</script>
</body>
</html>
